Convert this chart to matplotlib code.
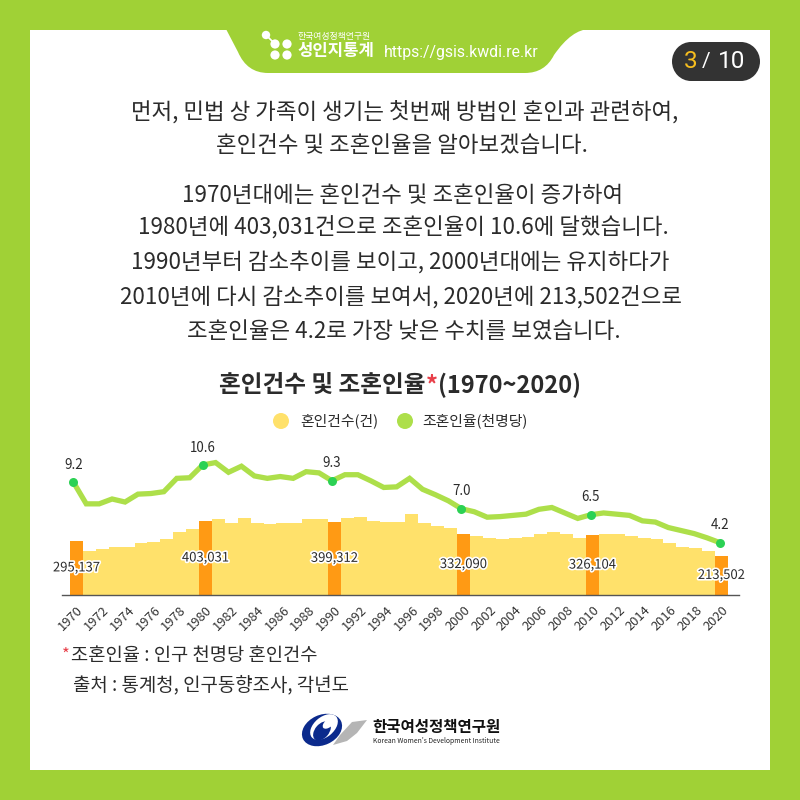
import matplotlib
matplotlib.use("Agg")
import matplotlib.pyplot as plt
import matplotlib.patheffects as pe
from matplotlib.patches import Rectangle, PathPatch, Ellipse, Circle, Polygon
from matplotlib.path import Path

plt.rcParams['font.family'] = ['Noto Sans CJK KR', 'DejaVu Sans']

years = list(range(1970, 2021))
marriages = [295137, 239800, 250700, 261600, 261600, 283400, 288900, 305000, 343000, 360000,
             403031, 414000, 392000, 420000, 392000, 387000, 392000, 392000, 414000, 414000,
             399312, 420000, 425000, 403000, 398000, 398000, 441000, 392000, 376000, 365000,
             332090, 322000, 311000, 305000, 311000, 316000, 332000, 343000, 332000, 311000,
             326104, 332000, 332000, 322000, 311000, 305000, 283000, 262000, 256000, 240000,
             213502]
rates = [9.2, 7.4, 7.4, 7.8, 7.55, 8.2, 8.25, 8.4, 9.5, 9.55,
         10.6, 10.8, 10.0, 10.5, 9.7, 9.5, 9.65, 9.5, 10.05, 9.95,
         9.3, 9.8, 9.8, 9.3, 8.75, 8.8, 9.5, 8.6, 8.15, 7.65,
         7.0, 6.75, 6.3, 6.35, 6.45, 6.55, 6.95, 7.1, 6.65, 6.2,
         6.5, 6.65, 6.55, 6.45, 6.0, 5.9, 5.45, 5.2, 4.95, 4.6,
         4.2]
highlight_years = [1970, 1980, 1990, 2000, 2010, 2020]
tick_years = years[::2]

chart_title = ['혼인건수 및 조혼인율', '*', '(1970~2020)']
legend_labels = ['혼인건수(건)', '조혼인율(천명당)']
intro_lines = ['먼저, 민법 상 가족이 생기는 첫번째 방법인 혼인과 관련하여,',
               '혼인건수 및 조혼인율을 알아보겠습니다.']
body_lines = ['1970년대에는 혼인건수 및 조혼인율이 증가하여',
              '1980년에 403,031건으로 조혼인율이 10.6에 달했습니다.',
              '1990년부터 감소추이를 보이고, 2000년대에는 유지하다가',
              '2010년에 다시 감소추이를 보여서, 2020년에 213,502건으로',
              '조혼인율은 4.2로 가장 낮은 수치를 보였습니다.']

GREEN = '#A0D136'
BAR = '#FFE16B'
BAR_HI = '#FF9A14'
LINE = '#ADDF4A'
DOT = '#2BD154'
INK = '#2B2B2B'
RED = '#E8404A'

fig = plt.figure(figsize=(8, 8), dpi=100, facecolor=GREEN)

# page layer in pixel coordinates
page = fig.add_axes([0, 0, 1, 1], zorder=0)
page.set_xlim(0, 800)
page.set_ylim(800, 0)
page.axis('off')
page.add_patch(Rectangle((30, 30), 740, 740, fc='white', ec='none'))

# header tab
tab = Path([(226, 29), (238, 52), (247, 73), (268, 73), (525, 73), (545, 73), (554, 55),
            (572, 29), (590, 29), (226, 29)],
           [Path.MOVETO, Path.LINETO, Path.CURVE3, Path.CURVE3, Path.LINETO, Path.CURVE3, Path.CURVE3,
            Path.CURVE3, Path.CURVE3, Path.CLOSEPOLY])
page.add_patch(PathPatch(tab, fc=GREEN, ec='none'))
for cx, cy, r in [(266, 35, 4.2), (275, 44, 4.6), (287, 44, 4.6), (275, 55, 4.6), (287, 55, 4.6)]:
    page.add_patch(Circle((cx, cy), r, fc='white', ec='none'))
page.plot([266, 275], [35, 44], color='white', lw=1.2)
page.text(298, 37, '한국여성정책연구원', fontsize=6.4, color='white', va='center', ha='left')
page.text(298, 51, '성인지통계', fontsize=12, fontweight='bold', color='white', va='center', ha='left')
page.text(384, 52, 'https://gsis.kwdi.re.kr', fontsize=11.4, color='white', va='center', ha='left',
          family='Roboto')

# page badge
page.add_patch(Rectangle((691, 42), 50, 39, fc='#333333', ec='none'))
page.add_patch(Ellipse((691, 61.5), 38, 39, fc='#333333', ec='none'))
page.add_patch(Ellipse((741, 61.5), 38, 39, fc='#333333', ec='none'))
page.text(691, 62, '3', fontsize=17.5, color='#F7BE1E', ha='center', va='center', family='Roboto')
page.text(706, 62, '/', fontsize=15, color='white', ha='center', va='center', family='Roboto')
page.text(732, 62, '10', fontsize=17.5, color='white', ha='center', va='center', family='Roboto')

# body copy
for line, x, y in zip(intro_lines, [405, 402], [112, 146]):
    page.text(x, y, line, fontsize=16.1, color=INK, ha='center', va='center')
for line, x, y in zip(body_lines, [403, 403, 400, 400.5, 404], [195, 228, 262, 298, 332]):
    page.text(x, y, line, fontsize=16.1, color=INK, ha='center', va='center')

# chart title with coloured asterisk
renderer = fig.canvas.get_renderer()
cursor = 219
for part, colour in zip(chart_title, [INK, RED, INK]):
    t = page.text(cursor, 385, part, fontsize=17, fontweight='bold', color=colour, ha='left', va='center')
    ext = t.get_window_extent(renderer)
    cursor = ext.x1 + 0.5

# legend
for label, colour, mx, tx in zip(legend_labels, [BAR, LINE], [281, 405], [300, 422]):
    page.add_patch(Circle((mx, 421), 8, fc=colour, ec='none'))
    page.text(tx, 421, label, fontsize=10.7, color=INK, ha='left', va='center')

# footnotes
page.text(62, 655, '*', fontsize=12, color=RED, ha='left', va='center')
page.text(71, 655, '조혼인율 : 인구 천명당 혼인건수', fontsize=13.5, color=INK, ha='left', va='center')
page.text(73, 685, '출처 : 통계청, 인구동향조사, 각년도', fontsize=13.6, color=INK, ha='left', va='center')

# institute logo
page.add_patch(Ellipse((322, 730), 42, 30, angle=-25, fc='#0B2A8C', ec='none'))
page.add_patch(Ellipse((324, 727), 32, 20, angle=-40, fc='white', ec='none'))
page.add_patch(Ellipse((322, 731), 14, 22, angle=40, fc='#0B2A8C', ec='none'))
page.add_patch(Ellipse((329, 723), 15, 8, angle=-40, fc='white', ec='none'))
page.add_patch(Polygon([(367, 720), (352, 722), (340, 735), (333, 745), (347, 741), (357, 733)],
                       closed=True, fc='#B5B5B5', ec='none'))
page.text(372, 727, '한국여성정책연구원', fontsize=11.2, fontweight='bold', color='#111111', ha='left', va='center')
page.text(373, 741, "Korean Women's Development Institute", fontsize=4.9, color='#222222', ha='left', va='center')

# chart axes: 62..739 px wide, 445..595 px tall
W, H = 800.0, 800.0
rect = [62 / W, (H - 595) / H, 677 / W, 150 / H]

ax = fig.add_axes(rect, zorder=1, facecolor='none')
ax.set_xlim(1970 - 14.5 / 12.9, 2020 + 17.5 / 12.9)
ax.set_ylim(0, 150 * 5450)
colours = [BAR_HI if y in highlight_years else BAR for y in years]
ax.bar(years, marriages, width=1.0, color=colours, linewidth=0, zorder=2)
for s in ['top', 'left', 'right']:
    ax.spines[s].set_visible(False)
ax.spines['bottom'].set_color('#555555')
ax.spines['bottom'].set_linewidth(1.0)
ax.set_yticks([])
ax.set_xticks(tick_years)
ax.set_xticklabels([str(y) for y in tick_years], rotation=45, ha='right', va='top',
                   rotation_mode='anchor', fontsize=9.3, color='#333333')
ax.tick_params(axis='x', length=0, pad=6)
for y, v in zip(years, marriages):
    if y in highlight_years:
        ax.text(y, v / 2, f'{v:,}', fontsize=9.4, color=INK, ha='center', va='center', zorder=5,
                path_effects=[pe.withStroke(linewidth=2.4, foreground='white')])

# rate line on its own slightly offset axes
ax2 = fig.add_axes(rect, zorder=2, facecolor='none')
ax2.set_xlim(1970 - 11.3 / 12.934, 2020 + 19 / 12.934)
ax2.set_ylim(10.6 - 130 / 12.14, 10.6 + 20 / 12.14)
ax2.axis('off')
ax2.plot(years, rates, color=LINE, lw=3.8, solid_joinstyle='miter', zorder=3)
hi_rates = [r for y, r in zip(years, rates) if y in highlight_years]
ax2.scatter(highlight_years, hi_rates, s=42, color=DOT, linewidths=0, zorder=4)
for y, r in zip(highlight_years, hi_rates):
    ax2.annotate(f'{r:.1f}', (y, r), xytext=(0, 12.5), textcoords='offset points', fontsize=9.6,
                 color=INK, ha='center', va='center')

fig.savefig('out.png', dpi=100, facecolor=GREEN)
